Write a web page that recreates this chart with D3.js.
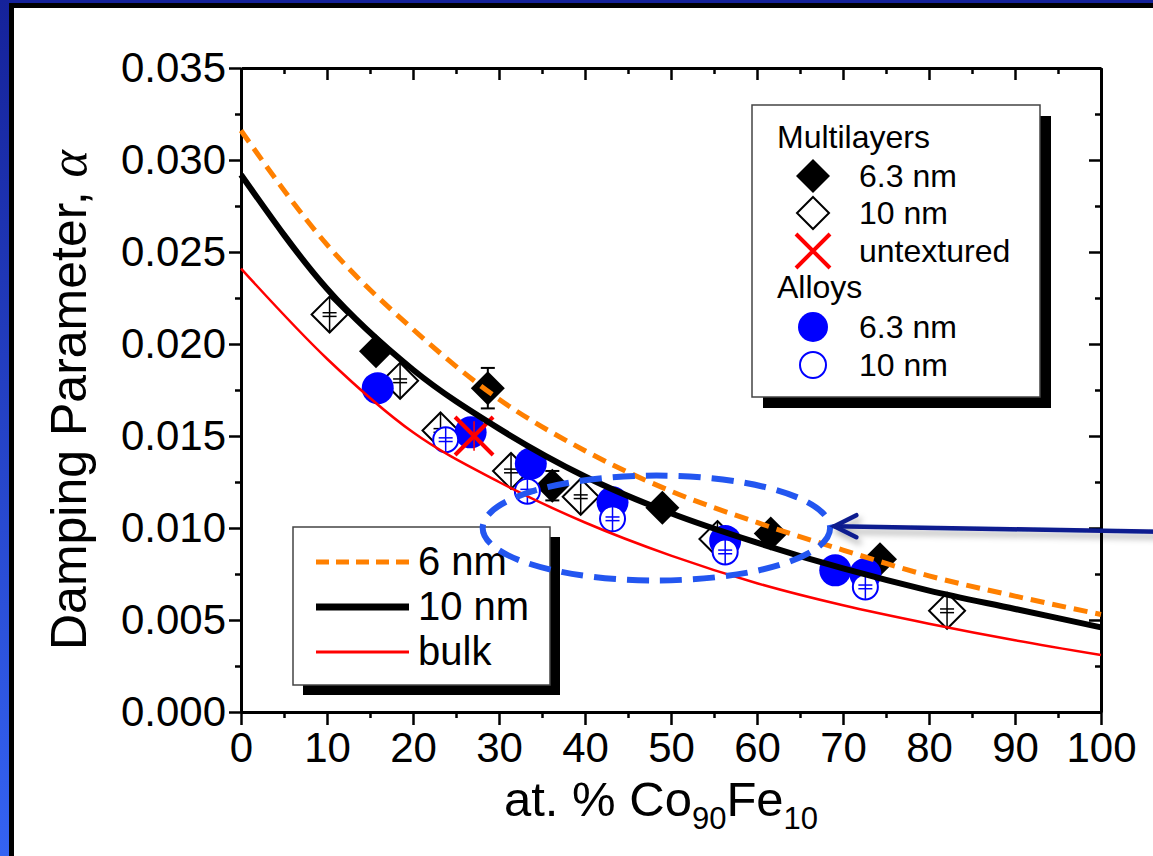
<!DOCTYPE html>
<html>
<head>
<meta charset="utf-8">
<script src="https://cdn.jsdelivr.net/npm/d3@7"></script>
<style>
  html, body { margin: 0; padding: 0; background: #fff; }
  svg { display: block; font-family: "Liberation Sans", Arial, sans-serif; }
</style>
</head>
<body>
<svg id="chart" width="1153" height="856"></svg>
<script>
// fitted curves, every 10 at.%
var curveX = [0, 10, 20, 30, 40, 50, 60, 70, 80, 90, 100];
var fit6nm = [0.0316, 0.0254, 0.0208, 0.0170, 0.0142, 0.0120, 0.0103, 0.0088, 0.0074, 0.0063, 0.0053];
var fit10nm = [0.0292, 0.0230, 0.0186, 0.0154, 0.0128, 0.0108, 0.0092, 0.0078, 0.0066, 0.0056, 0.0046];
var fitBulk = [0.0241, 0.0192, 0.0152, 0.0125, 0.0103, 0.0085, 0.0070, 0.0058, 0.0048, 0.0039, 0.0031];

// multilayers
var ml63X = [15.7, 28.7, 36.2, 49.0, 61.6, 74.3];
var ml63Y = [0.0196, 0.0176, 0.0123, 0.0111, 0.0097, 0.0083];
var ml63Err = [0, 0.0011, 0.0008, 0, 0, 0];
var ml10X = [10.3, 18.5, 23.2, 31.4, 39.5, 55.4, 82.1];
var ml10Y = [0.0216, 0.0180, 0.0153, 0.0131, 0.0117, 0.0094, 0.0055];
var ml10Err = [0.0001, 0.0001, 0.0001, 0.0001, 0.0001, 0.0001, 0.0001];
var untexX = [27.1];
var untexY = [0.0150];
var untexErr = [0.0008];

// alloys
var al63X = [15.9, 26.7, 33.7, 43.2, 56.3, 69.1, 72.6];
var al63Y = [0.0176, 0.0152, 0.0135, 0.0114, 0.0093, 0.0077, 0.0075];
var al10X = [23.8, 33.3, 43.2, 56.3, 72.6];
var al10Y = [0.0148, 0.0120, 0.0105, 0.0087, 0.0068];
var al10Err = [0.0001, 0.0001, 0.0001, 0.0001, 0.0001];

// axes
var xTicks = [0, 10, 20, 30, 40, 50, 60, 70, 80, 90, 100];
var xMinor = [5, 15, 25, 35, 45, 55, 65, 75, 85, 95];
var yTicks = [0, 0.005, 0.010, 0.015, 0.020, 0.025, 0.030, 0.035];
var yMinor = [0.0025, 0.0075, 0.0125, 0.0175, 0.0225, 0.0275, 0.0325];

var svg = d3.select("#chart");
var defs = svg.append("defs");

var grad = defs.append("linearGradient").attr("id", "edge")
    .attr("x1", 0).attr("y1", 0).attr("x2", 0).attr("y2", 1);
grad.append("stop").attr("offset", "0%").attr("stop-color", "#15229a");
grad.append("stop").attr("offset", "100%").attr("stop-color", "#3463f3");

var soft = defs.append("filter").attr("id", "soft")
    .attr("x", "-10%").attr("y", "-200%").attr("width", "130%").attr("height", "500%");
soft.append("feDropShadow").attr("dx", 3).attr("dy", 5).attr("stdDeviation", 3)
    .attr("flood-color", "#000").attr("flood-opacity", 0.3);

// slide frame
svg.append("rect").attr("width", 1153).attr("height", 856).attr("fill", "#fff");
svg.append("rect").attr("x", 0).attr("y", 0).attr("width", 1153).attr("height", 3).attr("fill", "#15229a");
svg.append("rect").attr("x", 0).attr("y", 0).attr("width", 9).attr("height", 856).attr("fill", "url(#edge)");
svg.append("rect").attr("x", 9).attr("y", 3).attr("width", 1144).attr("height", 5).attr("fill", "#000");
svg.append("rect").attr("x", 9).attr("y", 3).attr("width", 5).attr("height", 853).attr("fill", "#000");

var x = d3.scaleLinear().domain([0, 100]).range([241, 1101]);
var y = d3.scaleLinear().domain([0, 0.035]).range([712, 68]);

function styleAxis(g) {
  g.select(".domain").attr("stroke-width", 3).attr("stroke", "#000");
  g.selectAll(".tick line").attr("stroke-width", 2.5).attr("stroke", "#000");
  g.selectAll("text").attr("fill", "#000");
  g.attr("font-family", "Liberation Sans, Arial, sans-serif").attr("font-size", 42);
}
function minor(g) {
  g.select(".domain").remove();
  g.selectAll(".tick line").attr("stroke-width", 2.5).attr("stroke", "#000");
}

// minor ticks
svg.append("g").attr("transform", "translate(241,0)")
  .call(d3.axisLeft(y).tickValues(yMinor).tickSize(6).tickFormat("")).call(minor);
svg.append("g").attr("transform", "translate(1101,0)")
  .call(d3.axisRight(y).tickValues(yMinor).tickSize(-6).tickFormat("")).call(minor);
svg.append("g").attr("transform", "translate(0,712)")
  .call(d3.axisBottom(x).tickValues(xMinor).tickSize(6).tickFormat("")).call(minor);
svg.append("g").attr("transform", "translate(0,68)")
  .call(d3.axisTop(x).tickValues(xMinor).tickSize(-6).tickFormat("")).call(minor);

// major axes
svg.append("g").attr("transform", "translate(241,0)")
  .call(d3.axisLeft(y).tickValues(yTicks).tickSize(12).tickPadding(3)
    .tickSizeOuter(0).tickFormat(d3.format(".3f"))).call(styleAxis);
svg.append("g").attr("transform", "translate(1101,0)")
  .call(d3.axisRight(y).tickValues(yTicks).tickSize(-12).tickSizeOuter(0).tickFormat("")).call(styleAxis);
svg.append("g").attr("transform", "translate(0,712)")
  .call(d3.axisBottom(x).tickValues(xTicks).tickSize(13).tickPadding(7)
    .tickSizeOuter(0).tickFormat(d3.format("d"))).call(styleAxis);
svg.append("g").attr("transform", "translate(0,68)")
  .call(d3.axisTop(x).tickValues(xTicks).tickSize(-12).tickSizeOuter(0).tickFormat("")).call(styleAxis);

// axis titles
svg.append("text")
  .attr("transform", "translate(86,650) rotate(-90)")
  .attr("font-size", 50)
  .text("Damping Parameter, ")
  .append("tspan").attr("font-family", "Liberation Serif, serif").attr("font-style", "italic")
  .attr("font-size", 52).text("α");

var xt = svg.append("text").attr("x", 504).attr("y", 816).attr("font-size", 49);
xt.append("tspan").text("at. % Co");
xt.append("tspan").attr("font-size", 31).attr("dy", 13).text("90");
xt.append("tspan").attr("dy", -13).text("Fe");
xt.append("tspan").attr("font-size", 31).attr("dy", 13).text("10");

// marker helpers
function diamondPath(half) {
  return "M0," + (-half) + "L" + half + ",0L0," + half + "L" + (-half) + ",0Z";
}
function errBars(g, xs, ys, es, color, cap, width) {
  xs.forEach(function (v, i) {
    if (!es[i]) return;
    var cx = x(v), y1 = y(ys[i] + es[i]), y2 = y(ys[i] - es[i]);
    g.append("line").attr("x1", cx).attr("x2", cx).attr("y1", y1).attr("y2", y2)
      .attr("stroke", color).attr("stroke-width", width);
    [y1, y2].forEach(function (yy) {
      g.append("line").attr("x1", cx - cap).attr("x2", cx + cap).attr("y1", yy).attr("y2", yy)
        .attr("stroke", color).attr("stroke-width", width);
    });
  });
}
function innerBars(g, xs, ys, es, color, half) {
  // small error bars drawn through the open symbols
  xs.forEach(function (v, i) {
    var cx = x(v), cy = y(ys[i]);
    g.append("line").attr("x1", cx).attr("x2", cx).attr("y1", cy - half).attr("y2", cy + half)
      .attr("stroke", color).attr("stroke-width", 1.5);
    [y(ys[i] + es[i]), y(ys[i] - es[i])].forEach(function (yy) {
      g.append("line").attr("x1", cx - 7).attr("x2", cx + 7).attr("y1", yy).attr("y2", yy)
        .attr("stroke", color).attr("stroke-width", 1.5);
    });
  });
}

var marks = svg.append("g");

// multilayers 10 nm (open diamonds)
marks.selectAll(".ml10").data(ml10X).enter().append("path")
  .attr("d", diamondPath(18))
  .attr("transform", function (d, i) { return "translate(" + x(d) + "," + y(ml10Y[i]) + ")"; })
  .attr("fill", "#fff").attr("stroke", "#000").attr("stroke-width", 2);
innerBars(marks, ml10X, ml10Y, ml10Err, "#000", 18);

// multilayers 6.3 nm (filled diamonds)
errBars(marks, ml63X, ml63Y, ml63Err, "#000", 7, 2);
marks.selectAll(".ml63").data(ml63X).enter().append("path")
  .attr("d", diamondPath(17))
  .attr("transform", function (d, i) { return "translate(" + x(d) + "," + y(ml63Y[i]) + ")"; })
  .attr("fill", "#000");

// alloys 6.3 nm (filled circles)
marks.selectAll(".al63").data(al63X).enter().append("circle")
  .attr("cx", function (d) { return x(d); })
  .attr("cy", function (d, i) { return y(al63Y[i]); })
  .attr("r", 16).attr("fill", "#0000ff");

// alloys 10 nm (open circles)
marks.selectAll(".al10").data(al10X).enter().append("circle")
  .attr("cx", function (d) { return x(d); })
  .attr("cy", function (d, i) { return y(al10Y[i]); })
  .attr("r", 12.5).attr("fill", "#fff").attr("stroke", "#0000ff").attr("stroke-width", 2);
innerBars(marks, al10X, al10Y, al10Err, "#0000ff", 12);

// untextured (red cross)
errBars(marks, untexX, untexY, untexErr, "#ff0000", 0, 1.5);
marks.selectAll(".untex").data(untexX).enter().append("path")
  .attr("d", "M-19,-19L19,19M-19,19L19,-19")
  .attr("transform", function (d, i) { return "translate(" + x(d) + "," + y(untexY[i]) + ")"; })
  .attr("stroke", "#ff0000").attr("stroke-width", 4).attr("fill", "none");

// fitted curves
function curvePath(vals) {
  return d3.line()
    .x(function (d) { return x(d); })
    .y(function (d, i) { return y(vals[i]); })
    .curve(d3.curveMonotoneX)(curveX);
}
svg.append("path").attr("d", curvePath(fitBulk)).attr("fill", "none")
  .attr("stroke", "#ff0000").attr("stroke-width", 2.5);
svg.append("path").attr("d", curvePath(fit10nm)).attr("fill", "none")
  .attr("stroke", "#000").attr("stroke-width", 6);
svg.append("path").attr("d", curvePath(fit6nm)).attr("fill", "none")
  .attr("stroke", "#ff8000").attr("stroke-width", 5).attr("stroke-dasharray", "14,8");

// legend: symbols
var leg1 = svg.append("g");
leg1.append("rect").attr("x", 763).attr("y", 116).attr("width", 288).attr("height", 292).attr("fill", "#000");
leg1.append("rect").attr("x", 752).attr("y", 105).attr("width", 288).attr("height", 292)
  .attr("fill", "#fff").attr("stroke", "#444").attr("stroke-width", 1.5);
leg1.attr("font-size", 32);
leg1.append("text").attr("x", 777).attr("y", 148).text("Multilayers");
leg1.append("text").attr("x", 777).attr("y", 298).text("Alloys");
var rows = [
  { label: "6.3 nm", base: 187, kind: "fd" },
  { label: "10 nm", base: 224, kind: "od" },
  { label: "untextured", base: 262, kind: "x" },
  { label: "6.3 nm", base: 338, kind: "fc" },
  { label: "10 nm", base: 376, kind: "oc" }
];
rows.forEach(function (r) {
  var cy = r.base - 11, cx = 813;
  leg1.append("text").attr("x", 859).attr("y", r.base).text(r.label);
  if (r.kind === "fd") {
    leg1.append("path").attr("d", diamondPath(17)).attr("transform", "translate(" + cx + "," + cy + ")").attr("fill", "#000");
  } else if (r.kind === "od") {
    leg1.append("path").attr("d", diamondPath(16)).attr("transform", "translate(" + cx + "," + cy + ")")
      .attr("fill", "#fff").attr("stroke", "#000").attr("stroke-width", 2);
  } else if (r.kind === "x") {
    leg1.append("path").attr("d", "M-17,-17L17,17M-17,17L17,-17").attr("transform", "translate(" + cx + "," + cy + ")")
      .attr("stroke", "#ff0000").attr("stroke-width", 4);
  } else if (r.kind === "fc") {
    leg1.append("circle").attr("cx", cx).attr("cy", cy).attr("r", 15).attr("fill", "#0000ff");
  } else {
    leg1.append("circle").attr("cx", cx).attr("cy", cy).attr("r", 13).attr("fill", "#fff")
      .attr("stroke", "#0000ff").attr("stroke-width", 2);
  }
});

// legend: fits
var leg2 = svg.append("g").attr("font-size", 40);
leg2.append("rect").attr("x", 303).attr("y", 537).attr("width", 257).attr("height", 158).attr("fill", "#000");
leg2.append("rect").attr("x", 293).attr("y", 527).attr("width", 257).attr("height", 158)
  .attr("fill", "#fff").attr("stroke", "#444").attr("stroke-width", 1.5);
var fitRows = [
  { label: "6 nm", base: 575, color: "#ff8000", w: 5, dash: "13,7" },
  { label: "10 nm", base: 620, color: "#000", w: 7, dash: null },
  { label: "bulk", base: 665, color: "#ff0000", w: 3, dash: null }
];
fitRows.forEach(function (r) {
  var ly = r.base - 13;
  leg2.append("line").attr("x1", 316).attr("x2", 409).attr("y1", ly).attr("y2", ly)
    .attr("stroke", r.color).attr("stroke-width", r.w).attr("stroke-dasharray", r.dash);
  leg2.append("text").attr("x", 418).attr("y", r.base).text(r.label);
});

// highlight ellipse
svg.append("ellipse")
  .attr("cx", x(48.3)).attr("cy", y(0.0100))
  .attr("rx", x(48.3 + 20.2) - x(48.3)).attr("ry", y(0) - y(0.00285))
  .attr("fill", "none").attr("stroke", "#2356f0").attr("stroke-width", 6)
  .attr("stroke-dasharray", "22,11");

// pointer arrow
var arrow = svg.append("g").attr("filter", "url(#soft)")
  .attr("stroke", "#0a1a8f").attr("stroke-width", 4.5).attr("fill", "none").attr("stroke-linecap", "round");
arrow.append("line").attr("x1", x(69)).attr("y1", y(0.0101)).attr("x2", 1160).attr("y2", y(0.0098));
arrow.append("path").attr("d",
  "M" + (x(69) + 22) + "," + (y(0.0101) - 11) + "L" + x(69) + "," + y(0.0101) + "L" + (x(69) + 22) + "," + (y(0.0101) + 11));
</script>
</body>
</html>
